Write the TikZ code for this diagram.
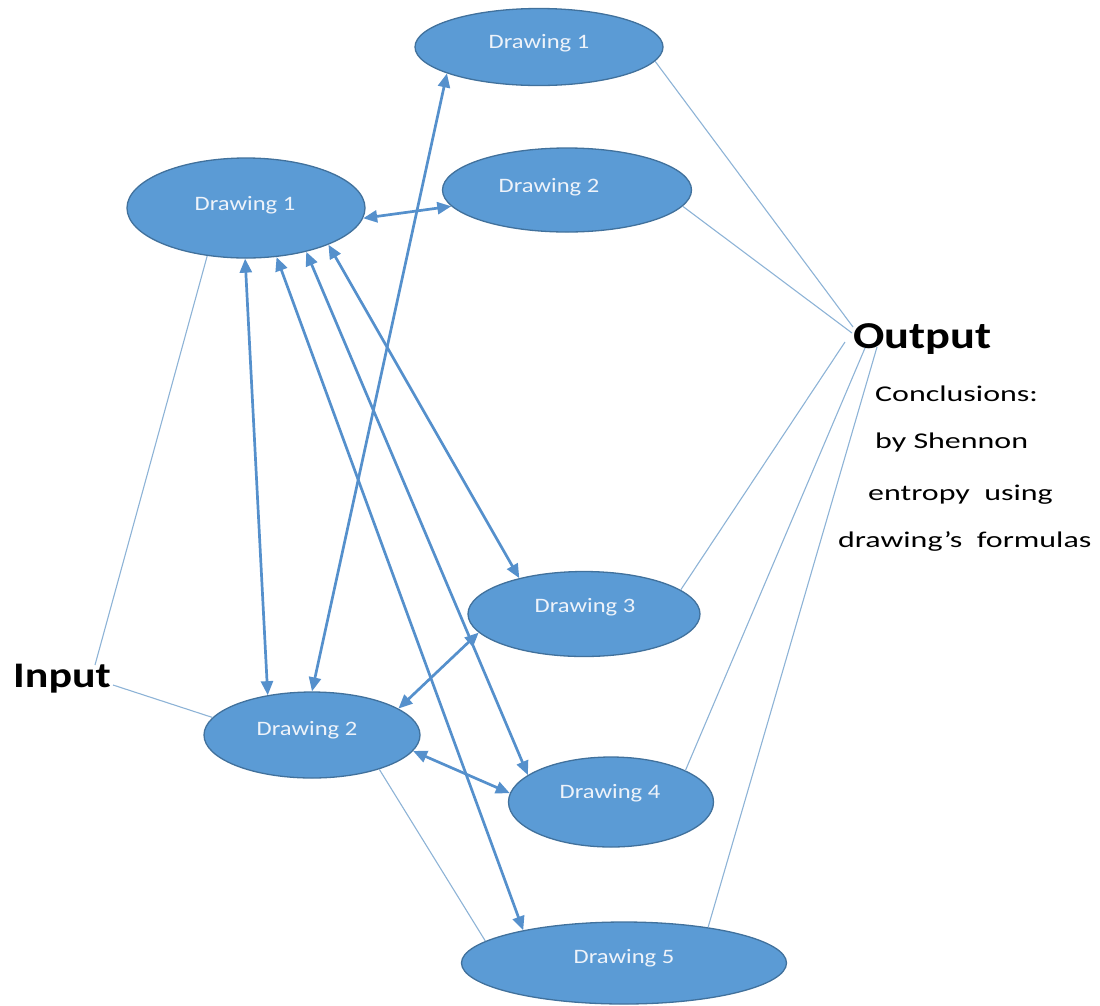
\documentclass[tikz,border=0pt]{standalone}
\usepackage{fontspec}
\setmainfont{Carlito}
\newfontfamily\elfont[FakeStretch=1.2]{Carlito}
\newfontfamily\iofont[FakeStretch=1.22]{Carlito}
\newfontfamily\ccfont[FakeStretch=1.42]{Carlito}
\usetikzlibrary{arrows.meta,shapes.geometric}
\definecolor{ellfill}{HTML}{5B9BD5}
\definecolor{elldraw}{HTML}{41719C}
\definecolor{arrc}{HTML}{5590CC}
\definecolor{thinc}{HTML}{8DB3D6}
\definecolor{eltxt}{HTML}{EEF3FA}
\begin{document}
\begin{tikzpicture}[x=1pt,y=-1pt,
  ell/.style={ellipse, draw=elldraw, fill=ellfill, line width=1.3pt, inner sep=0pt},
  eltext/.style={anchor=base, inner sep=0pt, text=eltxt, font=\elfont\fontsize{20.5}{24}\selectfont},
  arr/.style={draw=arrc, line width=2.7pt, {Triangle[length=14pt,width=12pt]}-{Triangle[length=14pt,width=12pt]}},
  thinline/.style={draw=thinc, line width=1.1pt},
  iotext/.style={anchor=base west, inner sep=0pt, font=\iofont\bfseries\fontsize{36}{40}\selectfont},
  cctext/.style={anchor=base west, inner sep=0pt, font=\ccfont\fontsize{22.5}{26}\selectfont}
]
\useasboundingbox (0,0) rectangle (1100,1005);

% ellipses
\node[ell, minimum width=248pt, minimum height=77pt] (t1) at (539,47) {};
\node[ell, minimum width=249pt, minimum height=84pt] (t2) at (567,190) {};
\node[ell, minimum width=238pt, minimum height=100pt] (l1) at (246,208) {};
\node[ell, minimum width=216pt, minimum height=86pt] (l2) at (312,735) {};
\node[ell, minimum width=232pt, minimum height=85pt] (d3) at (584,614) {};
\node[ell, minimum width=205pt, minimum height=90pt] (d4) at (611,802) {};
\node[ell, minimum width=325pt, minimum height=82pt] (d5) at (624,963) {};

% ellipse texts
\node[eltext] (t1t) at (539,48) {Drawing 1};
\node[eltext] (t2t) at (549,192) {Drawing 2};
\node[eltext] (l1t) at (245,210) {Drawing 1};
\node[eltext] (l2t) at (307,735) {Drawing 2};
\node[eltext] (d3t) at (585,612) {Drawing 3};
\node[eltext] (d4t) at (610,798) {Drawing 4};
\node[eltext] (d5t) at (624,963) {Drawing 5};

% labels
\node[iotext] (in) at (13,687) {Input};
\node[iotext, font=\iofont\bfseries\fontsize{38}{42}\selectfont] (out) at (853,348) {Output};
\node[cctext] (c1) at (875,401) {Conclusions:};
\node[cctext] (c2) at (875,448) {by Shennon};
\node[cctext] (c3) at (868,500) {entropy~ using};
\node[cctext] (c4) at (838,547) {drawing’s~ formulas};

% free ends of thin connectors
\coordinate (o1) at (853,327);
\coordinate (o2) at (852,333);
\coordinate (o3) at (845,342);
\coordinate (o4) at (865,348);
\coordinate (o5) at (877,347);
\coordinate (i1) at (95,665);
\coordinate (i2) at (113,685);

% thin connectors
\draw[thinline] (t1.353) -- (o1);
\draw[thinline] (t2.352) -- (o2);
\draw[thinline] (d3.14) -- (o3);
\draw[thinline] (d4.23) -- (o4);
\draw[thinline] (d5.23) -- (o5);
\draw[thinline] (l1.231) -- (i1);
\draw[thinline] (i2) -- (l2.170);
\draw[thinline] (l2.333) -- (d5.171);

% double arrows
\draw[arr] (t1.196) -- (l2.90);
\draw[arr] (l1.355) -- (t2.188);
\draw[arr] (l1.269) -- (l2.138);
\draw[arr] (l1.302) -- (d5.162);
\draw[arr] (l1.324) -- (d4.162);
\draw[arr] (l1.336) -- (d3.151);
\draw[arr] (d3.190) -- (l2.17);
\draw[arr] (l2.351) -- (d4.175);
\end{tikzpicture}
\end{document}
